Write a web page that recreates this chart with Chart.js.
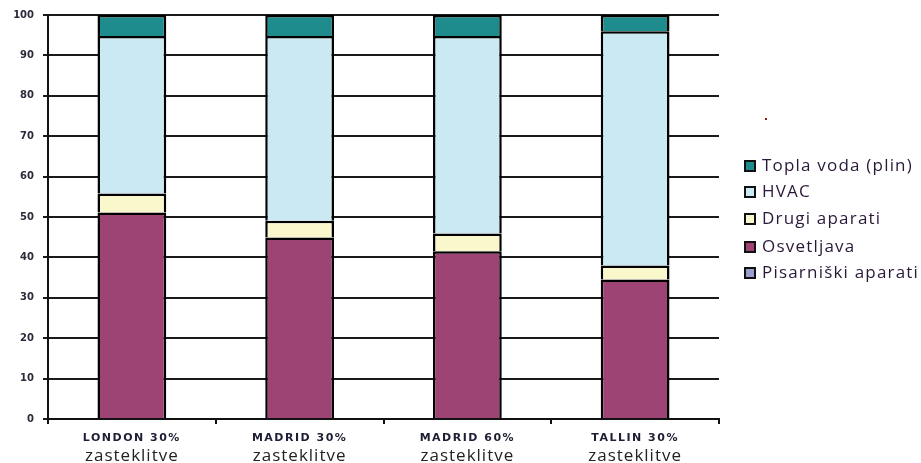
<!DOCTYPE html>
<html><head><meta charset="utf-8">
<script src="https://cdn.jsdelivr.net/npm/chart.js@4.4.1/dist/chart.umd.min.js"></script>
<style>html,body{margin:0;padding:0;background:#fff;}#wrap{width:921px;height:463px;}</style>
</head><body><div id="wrap"><canvas id="c" width="921" height="463"></canvas></div>
<script>
const categories = ["LONDON 30%", "MADRID 30%", "MADRID 60%", "TALLIN 30%"];
const categorySub = ["zasteklitve", "zasteklitve", "zasteklitve", "zasteklitve"];
const pisarniski = [0, 0, 0, 0];
const osvetljava = [51.1, 44.9, 41.5, 34.5];
const drugi = [4.7, 4.2, 4.4, 3.5];
const hvac = [39.0, 45.7, 48.9, 58.0];
const toplaVoda = [5.2, 5.2, 5.2, 4.0];
const yTicks = [0, 10, 20, 30, 40, 50, 60, 70, 80, 90, 100];

const seriesNames = ["Pisarniški aparati", "Osvetljava", "Drugi aparati", "HVAC", "Topla voda (plin)"];
const seriesData = [pisarniski, osvetljava, drugi, hvac, toplaVoda];
const seriesColors = ["#9C9CCE", "#9E4475", "#FAF7CC", "#CAE9F2", "#1E8C8C"];

const xLabelPlugin = {
  id: 'xLabels',
  afterDraw(chart) {
    const ctx = chart.ctx, xs = chart.scales.x;
    ctx.save();
    ctx.textAlign = 'center';
    ctx.textBaseline = 'middle';
    categories.forEach((c, i) => {
      const x = xs.getPixelForValue(i);
      ctx.fillStyle = '#1d1d33';
      ctx.font = 'bold 11px "DejaVu Sans"';
      ctx.letterSpacing = '1.5px';
      ctx.fillText(c, x, 438);
      ctx.font = '17px "Open Sans"';
      ctx.letterSpacing = '1px';
      ctx.fillStyle = '#222';
      ctx.fillText(categorySub[i], x, 456);
    });
    ctx.restore();
  }
};

const legendRowsY = [166, 192, 219, 247, 273];
const legendPlugin = {
  id: 'sideLegend',
  afterDraw(chart) {
    const ctx = chart.ctx;
    const ds = chart.data.datasets.slice().reverse();
    ctx.save();
    ds.forEach((d, i) => {
      const y = legendRowsY[i];
      ctx.fillStyle = '#111';
      ctx.fillRect(744, y - 6, 12, 12);
      ctx.fillStyle = d.backgroundColor;
      ctx.fillRect(746, y - 4, 8, 8);
      ctx.fillStyle = '#2a1838';
      ctx.font = '17px "Open Sans"';
      ctx.letterSpacing = '1.2px';
      ctx.textAlign = 'left';
      ctx.textBaseline = 'middle';
      ctx.fillText(d.label, 762, y);
    });
    ctx.fillStyle = '#8b1a1a';
    ctx.fillRect(765, 118, 2, 2);
    ctx.restore();
  }
};

new Chart(document.getElementById('c'), {
  type: 'bar',
  data: {
    labels: categories,
    datasets: seriesNames.map((n, i) => ({
      label: n,
      data: seriesData[i],
      backgroundColor: seriesColors[i],
      borderColor: '#000',
      borderWidth: i === 0 ? 0 : 2.5,
      borderSkipped: 'bottom',
      categoryPercentage: 1,
      barPercentage: 0.41
    }))
  },
  options: {
    responsive: false,
    animation: false,
    layout: { padding: { top: 13, left: 0, right: 202, bottom: 0 } },
    plugins: {
      tooltip: { enabled: false },
      legend: { display: false }
    },
    scales: {
      x: {
        stacked: true,
        offset: true,
        grid: { display: true, drawOnChartArea: false, drawTicks: true, tickLength: 5, color: '#111', lineWidth: 2, offset: true },
        border: { display: true, color: '#111', width: 2 },
        ticks: { display: false },
        afterFit(s) { s.height = 44; }
      },
      y: {
        stacked: true,
        min: 0, max: 100,
        afterBuildTicks(s) { s.ticks = yTicks.map(v => ({ value: v })); },
        grid: { color: '#1a1a1a', lineWidth: 2, tickLength: 5 },
        border: { display: true, color: '#111', width: 2 },
        ticks: { color: '#2a2a3a', font: { family: 'DejaVu Sans', size: 10, weight: 'bold' }, padding: 9 },
        afterFit(s) { s.width = 48; }
      }
    }
  },
  plugins: [xLabelPlugin, legendPlugin]
});
</script></body></html>
